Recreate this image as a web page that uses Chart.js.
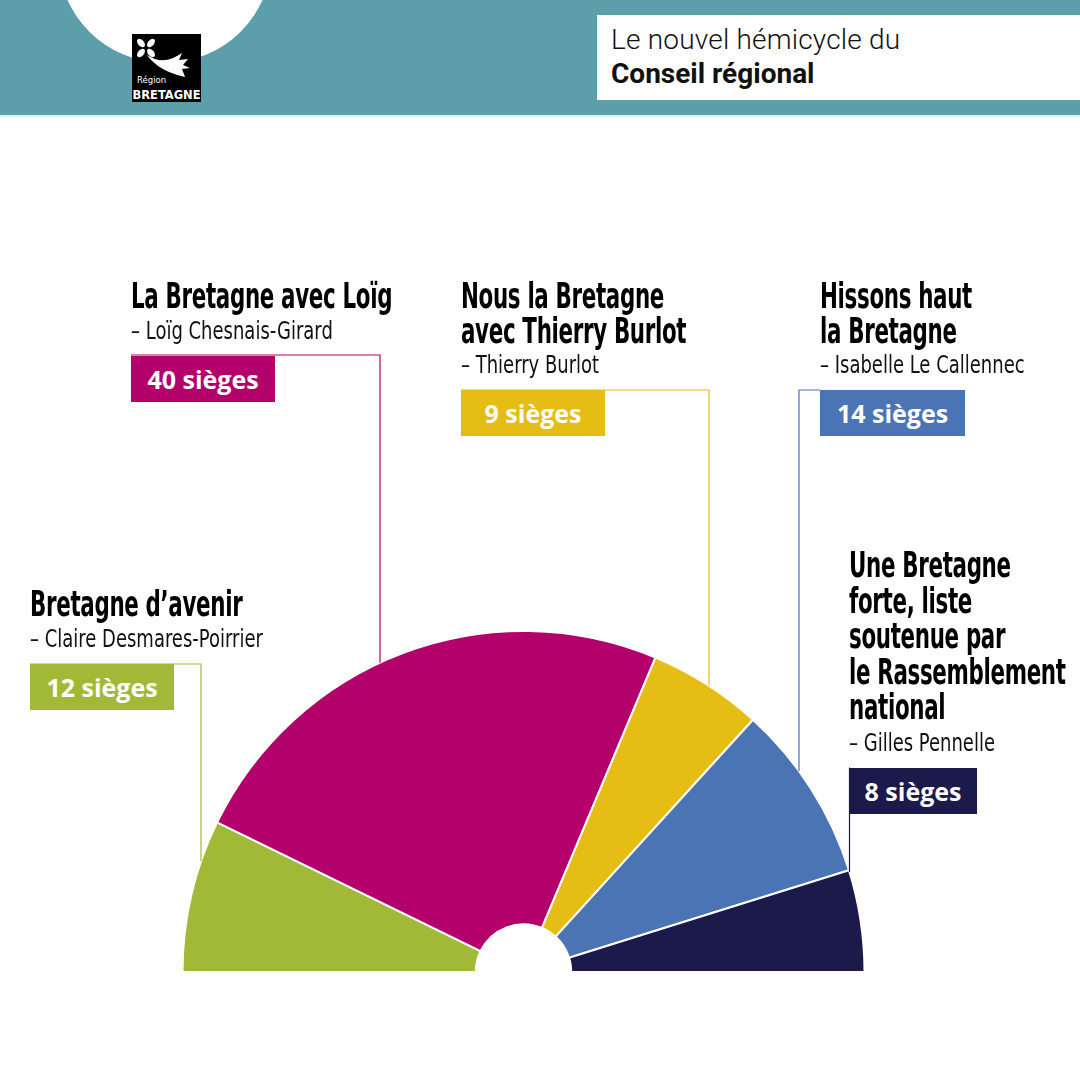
<!DOCTYPE html>
<html lang="fr">
<head>
<meta charset="UTF-8">
<title>Le nouvel hémicycle du Conseil régional</title>
<script src="https://cdn.jsdelivr.net/npm/chart.js"></script>
<style>
  html, body { margin: 0; padding: 0; background: #fff; }
  #page { position: relative; width: 1080px; height: 1080px; overflow: hidden; background: #fff; }
  #chartWrap { position: absolute; left: 0; top: 0; width: 1080px; height: 1080px; }
  .band { position: absolute; left: 0; top: 0; width: 1080px; height: 115px; background: #5c9ea9; border-bottom: 2px solid #dfeced; }
  .disc { position: absolute; left: 58px; top: -151px; width: 214px; height: 214px; border-radius: 50%; background: #fff; }
  .logo { position: absolute; left: 132px; top: 34px; }
  .titlebox { position: absolute; left: 597px; top: 15px; width: 483px; height: 85px; background: #fff; }
  .titlebox div { position: absolute; left: 14px; font-family: Roboto, "Open Sans", sans-serif; font-size: 28px; color: #111; white-space: nowrap; }
  .t1 { top: 8px; font-weight: 300; letter-spacing: 0.2px; }
  .t2 { top: 42px; font-weight: 700; }
  .group { position: absolute; white-space: nowrap; color: #000; }
  .head { font-family: "Liberation Sans Narrow", "DejaVu Sans Condensed", sans-serif; font-weight: 700; font-size: 35px; line-height: 34.5px; transform: scaleX(0.68); transform-origin: 0 0; letter-spacing: -0.5px; }
  .head.tall { line-height: 35.5px; }
  .sub { font-family: "Liberation Sans Narrow", "DejaVu Sans Condensed", sans-serif; font-size: 25px; line-height: 34px; transform: scaleX(0.8); transform-origin: 0 0; color: #111; }
  .seats { margin-top: 8px; height: 46px; line-height: 46px; text-align: center; color: #fff; font-family: "Open Sans", "Noto Sans", sans-serif; font-weight: 700; font-size: 25px; }
</style>
</head>
<body>
<div id="page">
  <div class="band"></div>
  <div class="disc"></div>
  <svg class="logo" width="69" height="68" viewBox="0 0 69 68">
    <rect width="69" height="68" fill="#000"/>
    <g fill="#fff">
      <ellipse cx="9" cy="9" rx="3" ry="5" transform="rotate(-40 9 9)"/>
      <ellipse cx="19" cy="9" rx="3" ry="5" transform="rotate(40 19 9)"/>
      <ellipse cx="9" cy="19" rx="3" ry="5" transform="rotate(40 9 19)"/>
      <ellipse cx="19" cy="19" rx="3" ry="5" transform="rotate(-40 19 19)"/>
      <path d="M15 21 C28 30 40 26 50 19 L47 26 L56 25 L51 31 L58 34 L50 35 L53 43 C42 40 26 36 15 21 Z"/>
      <text x="5" y="49" font-family="DejaVu Sans" font-size="8.5">Région</text>
      <text x="0.5" y="65" font-family="DejaVu Sans Condensed" font-weight="700" font-size="12" textLength="68" lengthAdjust="spacingAndGlyphs">BRETAGNE</text>
    </g>
  </svg>
  <div class="titlebox">
    <div class="t1">Le nouvel hémicycle du</div>
    <div class="t2">Conseil régional</div>
  </div>
  <div id="chartWrap"><canvas id="hemicycle"></canvas></div>
  <div id="labels"></div>
</div>

<script>
  // Seats per list, left to right in the hemicycle
  var lists = ['Bretagne d\u2019avenir', 'La Bretagne avec Loïg', 'Nous la Bretagne avec Thierry Burlot', 'Hissons haut la Bretagne', 'Une Bretagne forte, liste soutenue par le Rassemblement national'];
  var headLines = [
    ['Bretagne d\u2019avenir'],
    ['La Bretagne avec Loïg'],
    ['Nous la Bretagne', 'avec Thierry Burlot'],
    ['Hissons haut', 'la Bretagne'],
    ['Une Bretagne', 'forte, liste', 'soutenue par', 'le Rassemblement', 'national']
  ];
  var heads = ['Claire Desmares-Poirrier', 'Loïg Chesnais-Girard', 'Thierry Burlot', 'Isabelle Le Callennec', 'Gilles Pennelle'];
  var seats = [12, 40, 9, 14, 8];
  var colours = ['#a2b938', '#b4006b', '#e6bd15', '#4b74b5', '#1b1a4b'];

  // label placement: group top-left, box width, leader (top line y, start x, vertical x)
  var labelPos = [
    { x: 30,  y: 587, w: 144, lineY: 664, fromX: 30,  downX: 201 },
    { x: 131, y: 279, w: 144, lineY: 355, fromX: 131, downX: 380 },
    { x: 461, y: 279, w: 144, lineY: 390, fromX: 461, downX: 709 },
    { x: 820, y: 279, w: 145, lineY: 390, fromX: 820, downX: 799 },
    { x: 849, y: 548, w: 128, lineY: 768, fromX: 849, downX: 849.5, tall: true }
  ];

  // HTML labels
  var holder = document.getElementById('labels');
  lists.forEach(function (name, i) {
    var p = labelPos[i];
    var g = document.createElement('div');
    g.className = 'group';
    g.style.left = p.x + 'px';
    g.style.top = p.y + 'px';
    g.title = name;
    var h = '<div class="head' + (p.tall ? ' tall' : '') + '">' + headLines[i].join('<br>') + '</div>';
    h += '<div class="sub">\u2013 ' + heads[i] + '</div>';
    h += '<div class="seats" style="width:' + p.w + 'px;background:' + colours[i] + '">' + seats[i] + ' sièges</div>';
    g.innerHTML = h;
    holder.appendChild(g);
  });

  // leader lines from each label down to the outer arc
  var leaders = {
    id: 'leaders',
    afterDatasetsDraw: function (chart) {
      var arc = chart.getDatasetMeta(0).data[0];
      var cx = arc.x, cy = arc.y, r = arc.outerRadius;
      var ctx = chart.ctx;
      ctx.save();
      ctx.lineWidth = 1.2;
      labelPos.forEach(function (p, i) {
        var dx = p.downX - cx;
        var yEnd = cy - Math.sqrt(Math.max(r * r - dx * dx, 0));
        ctx.strokeStyle = colours[i];
        ctx.beginPath();
        ctx.moveTo(p.fromX, p.lineY);
        ctx.lineTo(p.downX, p.lineY);
        ctx.lineTo(p.downX, yEnd);
        ctx.stroke();
      });
      ctx.restore();
    }
  };

  var ctx = document.getElementById('hemicycle').getContext('2d');
  var hemicycle = new Chart(ctx, {
    type: 'doughnut',
    data: {
      labels: lists,
      datasets: [{
        data: seats,
        backgroundColor: colours,
        borderColor: '#ffffff',
        borderWidth: 2
      }]
    },
    options: {
      responsive: true,
      maintainAspectRatio: false,
      animation: false,
      rotation: -90,
      circumference: 180,
      cutout: '14%',
      layout: { padding: { left: 181, top: 630, right: 214, bottom: 107 } },
      plugins: {
        legend: { display: false },
        tooltip: { enabled: false }
      }
    },
    plugins: [leaders]
  });
</script>
</body>
</html>
